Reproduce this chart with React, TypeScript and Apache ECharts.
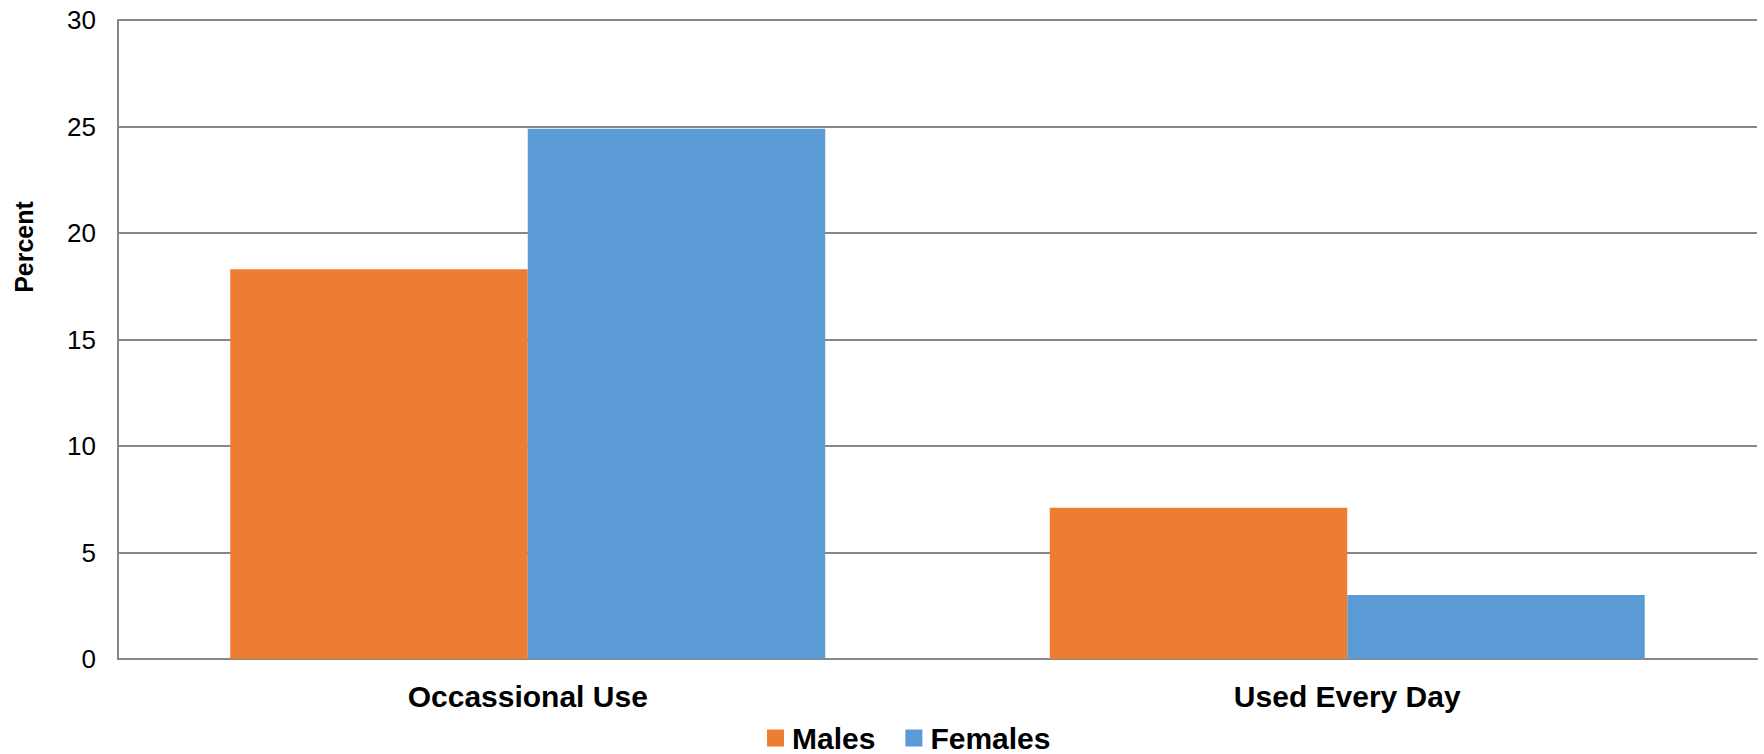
import React, { useEffect, useRef } from "react";
import * as echarts from "echarts";

const categories = ["Occassional Use", "Used Every Day"];
const males = [18.3, 7.1];
const females = [24.9, 3.0];
const seriesNames = ["Males", "Females"];
const yTicks = { min: 0, max: 30, interval: 5 };

export default function App() {
  const ref = useRef<HTMLDivElement>(null);
  useEffect(() => {
    if (!ref.current) return;
    const chart = echarts.init(ref.current, null, { renderer: "svg" });
    const font = "'Liberation Sans', Arial, Helvetica, sans-serif";
    chart.setOption({
      animation: false,
      backgroundColor: "#ffffff",
      textStyle: { fontFamily: font, color: "#000" },
      grid: { left: 118, right: 7, top: 20, bottom: 95, containLabel: false },
      legend: {
        data: seriesNames,
        left: 762,
        top: 718,
        itemWidth: 17,
        itemHeight: 17,
        itemGap: 30,
        icon: "rect",
        textStyle: {
          fontFamily: font,
          fontSize: 30,
          fontWeight: "bold",
          color: "#000",
          padding: [0, 0, 0, 3],
        },
      },
      graphic: [
        {
          type: "text",
          x: 24,
          y: 247,
          rotation: Math.PI / 2,
          style: {
            text: "Percent",
            fontFamily: font,
            fontSize: 25,
            fontWeight: "bold",
            fill: "#000",
            align: "center",
            verticalAlign: "middle",
          },
        },
      ],
      xAxis: {
        type: "category",
        data: categories,
        axisLine: { show: true, lineStyle: { color: "#878787", width: 2 } },
        axisTick: { show: false },
        axisLabel: {
          margin: 22,
          fontFamily: font,
          fontSize: 30,
          fontWeight: "bold",
          color: "#000",
        },
      },
      yAxis: {
        type: "value",
        min: yTicks.min,
        max: yTicks.max,
        interval: yTicks.interval,
        axisLine: { show: true, lineStyle: { color: "#878787", width: 2 } },
        axisTick: { show: false },
        splitLine: { show: true, lineStyle: { color: "#878787", width: 2 } },
        axisLabel: { margin: 22, fontFamily: font, fontSize: 26, color: "#000" },
      },
      series: [
        {
          name: seriesNames[0],
          type: "bar",
          data: males,
          itemStyle: { color: "#ED7D31" },
          barGap: "0%",
          barCategoryGap: "27.4%",
        },
        {
          name: seriesNames[1],
          type: "bar",
          data: females,
          itemStyle: { color: "#5B9BD5" },
          barGap: "0%",
          barCategoryGap: "27.4%",
        },
      ],
    });
    return () => chart.dispose();
  }, []);
  return (
    <div
      ref={ref}
      style={{ position: "absolute", left: 0, top: 0, width: 1764, height: 754 }}
    />
  );
}
